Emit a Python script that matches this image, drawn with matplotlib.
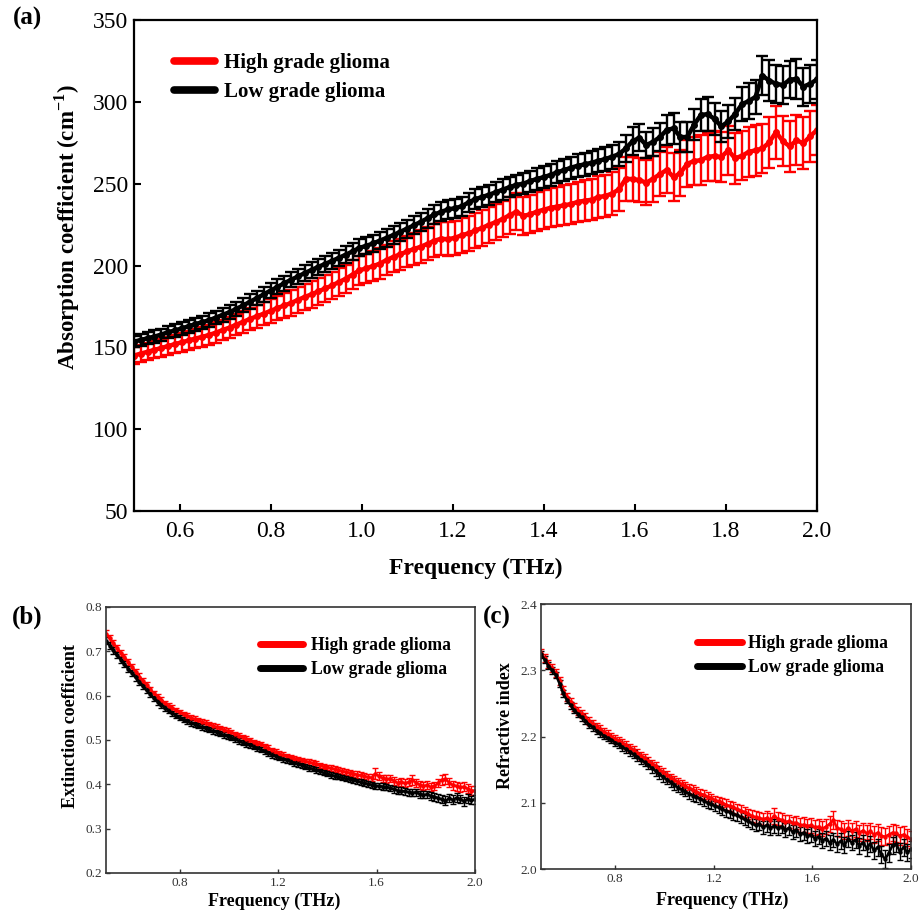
import matplotlib
matplotlib.use("Agg")
import matplotlib.pyplot as plt
from matplotlib.lines import Line2D

plt.rcParams['font.family'] = ['Liberation Serif', 'DejaVu Serif']
plt.rcParams['mathtext.fontset'] = 'custom'
plt.rcParams['mathtext.rm'] = 'Liberation Serif'
plt.rcParams['mathtext.bf'] = 'Liberation Serif:bold'

# ---------------- data ----------------
freq = [0.500, 0.515, 0.530, 0.545, 0.560, 0.575, 0.590, 0.605, 0.620, 0.635,
        0.650, 0.665, 0.680, 0.695, 0.710, 0.725, 0.740, 0.755, 0.770, 0.785,
        0.800, 0.815, 0.830, 0.845, 0.860, 0.875, 0.890, 0.905, 0.920, 0.935,
        0.950, 0.965, 0.980, 0.995, 1.010, 1.025, 1.040, 1.055, 1.070, 1.085,
        1.100, 1.115, 1.130, 1.145, 1.160, 1.175, 1.190, 1.205, 1.220, 1.235,
        1.250, 1.265, 1.280, 1.295, 1.310, 1.325, 1.340, 1.355, 1.370, 1.385,
        1.400, 1.415, 1.430, 1.445, 1.460, 1.475, 1.490, 1.505, 1.520, 1.535,
        1.550, 1.565, 1.580, 1.595, 1.610, 1.625, 1.640, 1.655, 1.670, 1.685,
        1.700, 1.715, 1.730, 1.745, 1.760, 1.775, 1.790, 1.805, 1.820, 1.835,
        1.850, 1.865, 1.880, 1.895, 1.910, 1.925, 1.940, 1.955, 1.970, 1.985, 2.000]

series_names = ["High grade glioma", "Low grade glioma"]

abs_high = [145.0, 146.2, 147.3, 148.5, 149.6, 150.8, 152.0, 153.1, 154.2, 155.4,
            156.4, 157.6, 159.0, 160.6, 162.1, 163.9, 165.6, 167.4, 169.0, 170.6,
            172.3, 174.0, 175.6, 177.1, 179.0, 180.8, 182.4, 184.2, 186.0, 187.8,
            189.9, 191.9, 194.5, 197.0, 198.3, 199.6, 201.2, 203.4, 205.3, 206.9,
            208.6, 210.1, 211.5, 213.3, 215.2, 216.4, 216.0, 217.0, 218.5, 219.7,
            221.4, 223.0, 225.0, 226.5, 228.5, 230.8, 232.8, 230.4, 231.2, 233.0,
            234.1, 235.3, 236.0, 236.8, 237.6, 238.9, 239.6, 240.2, 241.8, 242.5,
            244.0, 246.5, 253.0, 252.8, 252.2, 250.6, 253.0, 255.8, 258.4, 254.0,
            256.5, 262.2, 263.8, 264.4, 266.4, 266.9, 266.3, 270.4, 265.5, 267.0,
            269.4, 270.4, 271.5, 275.2, 281.5, 276.0, 272.8, 276.5, 274.7, 279.0, 282.8]
abs_high_err = [5.0, 5.1, 5.2, 5.3, 5.4, 5.5, 5.6, 5.7, 5.8, 5.9,
                6.0, 6.1, 6.2, 6.4, 6.5, 6.6, 6.8, 6.9, 7.0, 7.2,
                7.4, 7.5, 7.6, 7.8, 7.9, 8.0, 8.1, 8.3, 8.4, 8.5,
                8.6, 8.7, 8.8, 8.9, 9.0, 9.1, 9.2, 9.3, 9.4, 9.6,
                9.7, 9.8, 9.9, 10.0, 10.1, 10.2, 10.4, 10.5, 10.6, 10.7,
                10.8, 10.9, 11.0, 11.1, 11.2, 11.3, 11.4, 11.5, 11.6, 11.7,
                11.8, 11.9, 12.0, 12.1, 12.2, 12.3, 12.4, 12.5, 12.6, 12.8,
                12.9, 13.0, 13.4, 13.2, 13.5, 13.8, 14.0, 13.6, 14.2, 14.8,
                14.0, 14.5, 14.7, 15.2, 14.6, 15.0, 15.4, 14.8, 15.5, 15.0,
                15.3, 15.6, 15.1, 15.8, 16.2, 15.4, 15.6, 15.2, 15.8, 15.5, 15.0]

abs_low = [153.5, 154.5, 155.6, 156.6, 157.8, 159.3, 160.3, 161.6, 162.9, 164.2,
           165.4, 166.6, 168.2, 169.9, 171.5, 173.6, 175.6, 177.9, 180.1, 182.4,
           184.7, 186.9, 189.2, 191.3, 193.3, 195.4, 197.3, 199.2, 201.0, 202.8,
           204.7, 206.6, 208.6, 210.8, 212.0, 213.5, 215.2, 216.9, 218.7, 220.6,
           222.6, 224.6, 226.7, 228.9, 231.2, 232.8, 234.3, 235.0, 236.2, 238.6,
           240.6, 241.9, 243.3, 244.8, 246.4, 247.9, 249.3, 250.0, 251.6, 252.9,
           254.0, 255.4, 257.0, 258.3, 259.8, 261.0, 261.8, 262.8, 264.0, 265.0,
           266.5, 268.0, 271.5, 276.0, 278.0, 273.6, 275.5, 278.5, 282.8, 283.8,
           278.5, 278.5, 286.0, 292.0, 292.5, 289.5, 285.0, 288.0, 292.5, 298.5,
           300.5, 303.0, 316.0, 313.0, 311.0, 310.3, 313.5, 314.0, 309.3, 311.0, 313.7]
abs_low_err = [3.5, 3.6, 3.6, 3.7, 3.7, 3.8, 3.8, 3.9, 3.9, 4.0,
               4.0, 4.1, 4.1, 4.2, 4.2, 4.3, 4.3, 4.4, 4.4, 4.5,
               4.5, 4.6, 4.6, 4.7, 4.7, 4.8, 4.8, 4.9, 4.9, 5.0,
               5.0, 5.1, 5.1, 5.2, 5.2, 5.3, 5.3, 5.4, 5.4, 5.5,
               5.5, 5.6, 5.6, 5.7, 5.7, 5.8, 5.8, 5.9, 5.9, 6.0,
               6.0, 6.1, 6.1, 6.2, 6.2, 6.3, 6.3, 6.4, 6.4, 6.5,
               6.5, 6.6, 6.6, 6.7, 6.8, 6.9, 7.0, 7.0, 7.1, 7.2,
               7.3, 7.5, 8.0, 8.6, 8.2, 8.0, 8.4, 8.8, 9.0, 9.4,
               9.2, 9.0, 9.6, 9.8, 10.2, 9.6, 9.4, 9.8, 10.0, 10.4,
               10.8, 10.6, 12.0, 12.6, 11.8, 11.6, 11.4, 12.0, 11.6, 11.8, 11.8]

ext_high = [0.740, 0.729, 0.718, 0.707, 0.697, 0.687, 0.676, 0.665, 0.654, 0.643,
            0.633, 0.623, 0.614, 0.605, 0.597, 0.590, 0.583, 0.577, 0.572, 0.567,
            0.562, 0.558, 0.554, 0.550, 0.547, 0.544, 0.541, 0.538, 0.535, 0.532,
            0.529, 0.526, 0.523, 0.520, 0.517, 0.513, 0.510, 0.506, 0.502, 0.499,
            0.495, 0.492, 0.490, 0.485, 0.481, 0.477, 0.473, 0.469, 0.466, 0.463,
            0.461, 0.458, 0.456, 0.454, 0.452, 0.450, 0.448, 0.446, 0.443, 0.440,
            0.438, 0.436, 0.434, 0.432, 0.430, 0.428, 0.426, 0.424, 0.422, 0.420,
            0.418, 0.416, 0.415, 0.424, 0.418, 0.414, 0.412, 0.413, 0.408, 0.403,
            0.406, 0.402, 0.405, 0.410, 0.404, 0.399, 0.396, 0.398, 0.394, 0.396,
            0.403, 0.410, 0.412, 0.404, 0.398, 0.396, 0.393, 0.395, 0.390, 0.386, 0.386]
ext_high_err = [0.008, 0.008, 0.008, 0.007, 0.007, 0.007, 0.007, 0.007, 0.007, 0.007,
                0.007, 0.007, 0.006, 0.006, 0.006, 0.006, 0.006, 0.006, 0.006, 0.006,
                0.006, 0.006, 0.006, 0.006, 0.006, 0.006, 0.006, 0.006, 0.006, 0.006,
                0.006, 0.006, 0.006, 0.006, 0.006, 0.006, 0.006, 0.006, 0.006, 0.006,
                0.006, 0.006, 0.006, 0.007, 0.007, 0.006, 0.006, 0.006, 0.006, 0.006,
                0.006, 0.006, 0.006, 0.006, 0.006, 0.006, 0.006, 0.006, 0.006, 0.006,
                0.006, 0.007, 0.007, 0.007, 0.007, 0.007, 0.007, 0.007, 0.007, 0.007,
                0.007, 0.008, 0.008, 0.012, 0.009, 0.008, 0.008, 0.008, 0.009, 0.009,
                0.009, 0.009, 0.009, 0.011, 0.009, 0.009, 0.009, 0.009, 0.009, 0.009,
                0.010, 0.012, 0.012, 0.010, 0.010, 0.010, 0.010, 0.010, 0.010, 0.010, 0.010]

ext_low = [0.724, 0.713, 0.702, 0.691, 0.681, 0.671, 0.661, 0.651, 0.641, 0.631,
           0.621, 0.612, 0.603, 0.594, 0.586, 0.579, 0.572, 0.566, 0.560, 0.555,
           0.550, 0.546, 0.542, 0.538, 0.535, 0.532, 0.529, 0.526, 0.523, 0.520,
           0.517, 0.514, 0.511, 0.508, 0.505, 0.502, 0.498, 0.494, 0.491, 0.488,
           0.485, 0.481, 0.478, 0.474, 0.470, 0.466, 0.463, 0.460, 0.457, 0.454,
           0.451, 0.448, 0.446, 0.443, 0.440, 0.437, 0.435, 0.432, 0.429, 0.426,
           0.424, 0.421, 0.419, 0.417, 0.415, 0.413, 0.411, 0.409, 0.407, 0.405,
           0.403, 0.401, 0.399, 0.397, 0.396, 0.395, 0.394, 0.392, 0.389, 0.386,
           0.385, 0.384, 0.382, 0.381, 0.382, 0.378, 0.376, 0.377, 0.374, 0.372,
           0.369, 0.366, 0.363, 0.368, 0.365, 0.370, 0.366, 0.362, 0.367, 0.364, 0.366]
ext_low_err = [0.008, 0.008, 0.008, 0.007, 0.007, 0.007, 0.007, 0.007, 0.007, 0.007,
               0.007, 0.007, 0.006, 0.006, 0.006, 0.006, 0.006, 0.006, 0.006, 0.006,
               0.006, 0.006, 0.006, 0.006, 0.006, 0.006, 0.006, 0.006, 0.006, 0.006,
               0.006, 0.006, 0.006, 0.006, 0.006, 0.006, 0.006, 0.006, 0.006, 0.006,
               0.006, 0.006, 0.006, 0.006, 0.006, 0.006, 0.006, 0.006, 0.006, 0.006,
               0.006, 0.006, 0.006, 0.006, 0.006, 0.006, 0.006, 0.006, 0.006, 0.006,
               0.006, 0.006, 0.006, 0.006, 0.006, 0.006, 0.006, 0.006, 0.006, 0.006,
               0.007, 0.007, 0.007, 0.007, 0.007, 0.007, 0.007, 0.007, 0.008, 0.008,
               0.008, 0.008, 0.008, 0.008, 0.008, 0.008, 0.008, 0.009, 0.009, 0.009,
               0.009, 0.009, 0.010, 0.009, 0.010, 0.010, 0.009, 0.010, 0.010, 0.009, 0.010]

ref_high = [2.326, 2.318, 2.310, 2.303, 2.296, 2.284, 2.270, 2.260, 2.252, 2.245,
            2.239, 2.234, 2.229, 2.224, 2.219, 2.215, 2.211, 2.207, 2.204, 2.200,
            2.197, 2.194, 2.190, 2.187, 2.183, 2.179, 2.175, 2.171, 2.167, 2.163,
            2.159, 2.155, 2.150, 2.146, 2.142, 2.138, 2.135, 2.131, 2.128, 2.125,
            2.122, 2.120, 2.117, 2.114, 2.112, 2.109, 2.107, 2.104, 2.102, 2.100,
            2.097, 2.095, 2.093, 2.090, 2.088, 2.086, 2.083, 2.080, 2.078, 2.077,
            2.075, 2.077, 2.074, 2.080, 2.076, 2.074, 2.071, 2.072, 2.069, 2.070,
            2.066, 2.067, 2.065, 2.066, 2.063, 2.064, 2.061, 2.064, 2.068, 2.074,
            2.062, 2.060, 2.057, 2.062, 2.058, 2.060, 2.055, 2.058, 2.054, 2.057,
            2.052, 2.055, 2.050, 2.049, 2.052, 2.055, 2.054, 2.050, 2.052, 2.048, 2.045]
ref_high_err = [0.006, 0.006, 0.006, 0.006, 0.006, 0.006, 0.006, 0.006, 0.006, 0.006,
                0.006, 0.006, 0.006, 0.006, 0.006, 0.006, 0.006, 0.006, 0.006, 0.006,
                0.006, 0.006, 0.006, 0.006, 0.006, 0.006, 0.006, 0.006, 0.006, 0.006,
                0.006, 0.006, 0.006, 0.006, 0.006, 0.006, 0.006, 0.006, 0.006, 0.006,
                0.007, 0.007, 0.007, 0.007, 0.007, 0.007, 0.007, 0.007, 0.007, 0.007,
                0.008, 0.008, 0.008, 0.008, 0.008, 0.008, 0.008, 0.009, 0.009, 0.009,
                0.009, 0.010, 0.010, 0.012, 0.010, 0.010, 0.010, 0.010, 0.010, 0.010,
                0.011, 0.011, 0.011, 0.011, 0.011, 0.011, 0.011, 0.011, 0.012, 0.013,
                0.012, 0.012, 0.012, 0.012, 0.012, 0.012, 0.012, 0.012, 0.012, 0.012,
                0.013, 0.013, 0.013, 0.013, 0.013, 0.013, 0.013, 0.013, 0.013, 0.013, 0.013]

ref_low = [2.324, 2.316, 2.307, 2.300, 2.293, 2.280, 2.265, 2.255, 2.247, 2.240,
           2.234, 2.229, 2.224, 2.218, 2.214, 2.209, 2.205, 2.201, 2.198, 2.195,
           2.191, 2.188, 2.184, 2.181, 2.177, 2.173, 2.169, 2.165, 2.161, 2.157,
           2.152, 2.148, 2.143, 2.139, 2.135, 2.131, 2.127, 2.123, 2.120, 2.117,
           2.114, 2.111, 2.109, 2.106, 2.103, 2.100, 2.098, 2.095, 2.093, 2.090,
           2.088, 2.086, 2.083, 2.081, 2.078, 2.075, 2.072, 2.069, 2.066, 2.068,
           2.063, 2.066, 2.062, 2.065, 2.062, 2.064, 2.059, 2.062, 2.056, 2.059,
           2.053, 2.055, 2.050, 2.052, 2.046, 2.049, 2.043, 2.046, 2.040, 2.044,
           2.038, 2.042, 2.036, 2.045, 2.040, 2.044, 2.035, 2.040, 2.032, 2.038,
           2.028, 2.033, 2.022, 2.015, 2.024, 2.036, 2.038, 2.026, 2.033, 2.025, 2.030]
ref_low_err = [0.005, 0.005, 0.005, 0.005, 0.005, 0.005, 0.005, 0.005, 0.005, 0.005,
               0.005, 0.005, 0.005, 0.005, 0.005, 0.005, 0.005, 0.005, 0.005, 0.005,
               0.006, 0.006, 0.006, 0.006, 0.006, 0.006, 0.006, 0.006, 0.006, 0.006,
               0.007, 0.007, 0.007, 0.007, 0.007, 0.007, 0.007, 0.007, 0.007, 0.007,
               0.008, 0.008, 0.008, 0.008, 0.008, 0.008, 0.008, 0.008, 0.008, 0.008,
               0.009, 0.009, 0.009, 0.009, 0.009, 0.009, 0.009, 0.009, 0.009, 0.009,
               0.010, 0.010, 0.010, 0.010, 0.010, 0.010, 0.010, 0.010, 0.010, 0.010,
               0.011, 0.011, 0.011, 0.011, 0.011, 0.011, 0.011, 0.011, 0.011, 0.011,
               0.012, 0.012, 0.012, 0.012, 0.012, 0.012, 0.012, 0.012, 0.012, 0.012,
               0.013, 0.013, 0.013, 0.013, 0.014, 0.013, 0.013, 0.013, 0.013, 0.013, 0.013]

abs_yticks = [50, 100, 150, 200, 250, 300, 350]
abs_xticks = [0.6, 0.8, 1.0, 1.2, 1.4, 1.6, 1.8, 2.0]
small_xticks = [0.8, 1.2, 1.6, 2.0]
ext_yticks = [0.2, 0.3, 0.4, 0.5, 0.6, 0.7, 0.8]
ref_yticks = [2.0, 2.1, 2.2, 2.3, 2.4]

colors = ['#ff0000', '#000000']

# ---------------- figure ----------------
fig = plt.figure(figsize=(9.22, 9.14), dpi=100)
ax_a = fig.add_axes([0.1453, 0.4409, 0.7408, 0.5372])
ax_b = fig.add_axes([0.1150, 0.0449, 0.4002, 0.2910])
ax_c = fig.add_axes([0.5868, 0.0492, 0.4013, 0.2899])


def draw(ax, ys, errs, lw, ms, capsize, elw):
    for y, e, c in zip(ys, errs, colors):
        ax.errorbar(freq, y, yerr=e, color=c, ecolor=c, lw=lw, marker='o',
                    ms=ms, capsize=capsize, elinewidth=elw, capthick=elw)


draw(ax_a, [abs_high, abs_low], [abs_high_err, abs_low_err], 3.2, 4.0, 4.5, 1.7)
draw(ax_b, [ext_high, ext_low], [ext_high_err, ext_low_err], 1.8, 2.2, 2.2, 1.0)
draw(ax_c, [ref_high, ref_low], [ref_high_err, ref_low_err], 1.8, 2.2, 2.2, 1.0)

# panel (a) styling
ax_a.set_xlim(0.5, 2.0)
ax_a.set_ylim(50, 350)
ax_a.set_xticks(abs_xticks)
ax_a.set_xticklabels([f"{t:.1f}" for t in abs_xticks])
ax_a.set_yticks(abs_yticks)
ax_a.tick_params(axis='both', direction='in', length=5, width=1.5,
                 labelsize=17, top=False, right=False)
ax_a.tick_params(axis='x', pad=7)
ax_a.tick_params(axis='y', pad=4)
for s in ax_a.spines.values():
    s.set_linewidth(1.6)
ax_a.set_xlabel("Frequency (THz)", fontsize=17, fontweight='bold')
ax_a.set_ylabel(r"Absorption coefficient (cm$^{\mathbf{-1}}$)", fontsize=16.5,
                fontweight='bold')
ax_a.xaxis.label.set_va('center')
ax_a.yaxis.label.set_va('center')
ax_a.xaxis.set_label_coords(0.5, -0.116)
ax_a.yaxis.set_label_coords(-0.098, 0.578)

handles = [Line2D([], [], color=c, lw=5.5, solid_capstyle='round') for c in colors]
ax_a.legend(handles, series_names, loc='upper left', bbox_to_anchor=(0.058, 0.933),
            frameon=False, borderpad=0, borderaxespad=0, handlelength=2.0,
            handletextpad=0.4, labelspacing=0.45,
            prop={'family': 'Liberation Serif', 'weight': 'bold', 'size': 15})

# panels (b), (c)
for ax, yt, yl, ylab, lab_y in [
        (ax_b, ext_yticks, (0.2, 0.8), "Extinction coefficient", 0.553),
        (ax_c, ref_yticks, (2.0, 2.4), "Refractive index", 0.543)]:
    ax.set_xlim(0.5, 2.0)
    ax.set_ylim(*yl)
    ax.set_xticks(small_xticks)
    ax.set_xticklabels([f"{t:.1f}" for t in small_xticks])
    ax.set_yticks(yt)
    ax.set_yticklabels([f"{t:.1f}" for t in yt])
    ax.tick_params(axis='both', direction='in', length=3, width=1.0,
                   labelsize=9.5, labelcolor='#333333', color='#333333',
                   top=False, right=False, pad=3)
    for s in ax.spines.values():
        s.set_linewidth(1.2)
        s.set_color('#333333')
    ax.set_ylabel(ylab, fontsize=13, fontweight='bold')
    ax.set_xlabel("Frequency (THz)", fontsize=13, fontweight='bold')
    ax.xaxis.label.set_va('center')
    ax.yaxis.label.set_va('center')
    ax.yaxis.set_label_coords(-0.095, lab_y)

ax_b.xaxis.set_label_coords(0.455, -0.105)
ax_c.xaxis.set_label_coords(0.489, -0.12)

handles_s = [Line2D([], [], color=c, lw=5, solid_capstyle='round') for c in colors]
ax_b.legend(handles_s, series_names, loc='upper left', bbox_to_anchor=(0.417, 0.888),
            frameon=False, borderpad=0, borderaxespad=0, handlelength=2.45,
            handletextpad=0.45, labelspacing=0.42,
            prop={'family': 'Liberation Serif', 'weight': 'bold', 'size': 12.7})
ax_c.legend(handles_s, series_names, loc='upper left', bbox_to_anchor=(0.421, 0.883),
            frameon=False, borderpad=0, borderaxespad=0, handlelength=2.55,
            handletextpad=0.35, labelspacing=0.42,
            prop={'family': 'Liberation Serif', 'weight': 'bold', 'size': 12.7})

# panel letters
fig.text(27 / 922, 1 - 18 / 914, "(a)", fontsize=18, fontweight='bold',
         ha='center', va='center')
fig.text(27 / 922, 1 - 617 / 914, "(b)", fontsize=18, fontweight='bold',
         ha='center', va='center')
fig.text(497 / 922, 1 - 617 / 914, "(c)", fontsize=18, fontweight='bold',
         ha='center', va='center')

fig.savefig("out.png", dpi=100)
